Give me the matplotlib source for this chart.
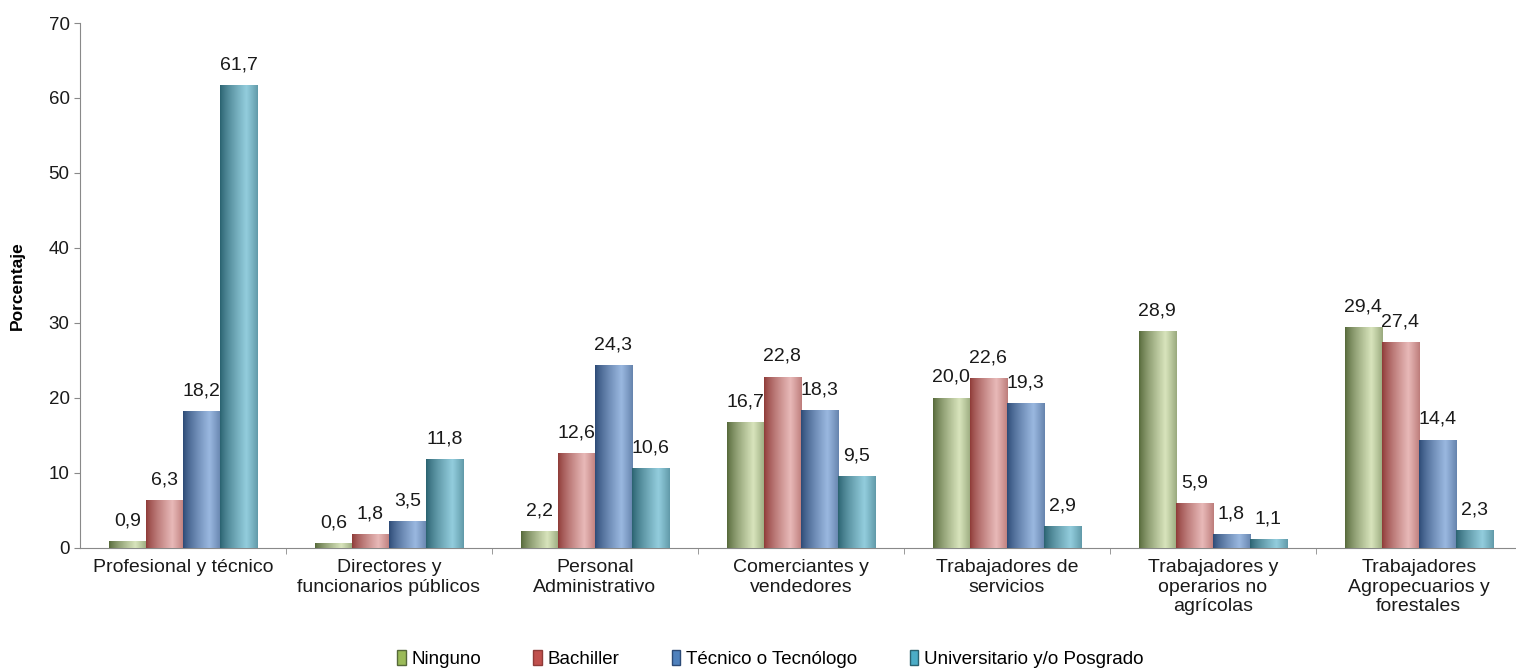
import numpy as np
import matplotlib
matplotlib.use('Agg')
import matplotlib.pyplot as plt
from matplotlib.colors import to_rgb
from matplotlib.patches import Patch

plt.rcParams['font.family'] = ['Liberation Sans', 'DejaVu Sans']

categories = ['Profesional y técnico', 'Directores y\nfuncionarios públicos',
              'Personal\nAdministrativo', 'Comerciantes y\nvendedores',
              'Trabajadores de\nservicios', 'Trabajadores y\noperarios no\nagrícolas',
              'Trabajadores\nAgropecuarios y\nforestales']
series = ['Ninguno', 'Bachiller', 'Técnico o Tecnólogo', 'Universitario y/o Posgrado']
ninguno = [0.9, 0.6, 2.2, 16.7, 20.0, 28.9, 29.4]
bachiller = [6.3, 1.8, 12.6, 22.8, 22.6, 5.9, 27.4]
tecnico = [18.2, 3.5, 24.3, 18.3, 19.3, 1.8, 14.4]
universitario = [61.7, 11.8, 10.6, 9.5, 2.9, 1.1, 2.3]

values = [ninguno, bachiller, tecnico, universitario]
dark = ['#56693a', '#8f3b38', '#2c4a76', '#2a6270']
light = ['#d8e4bc', '#e8b9b8', '#9ab8e0', '#93cddd']
mid = ['#9bbb59', '#c0504d', '#4f81bd', '#4bacc6']

fig = plt.figure(figsize=(15.16, 6.69), dpi=100)
ax = fig.add_axes([0.0528, 0.181, 0.951, 0.7846])

x = np.arange(len(categories))
w = 0.18

# horizontal shading: dark on the left, light toward the right, darker again at the edge
t = np.linspace(0, 1, 64)
prof = np.where(t < 0.7, t / 0.7, 1 - (t - 0.7) / 0.3 * 0.55)
prof = prof ** 0.8

for i, vals in enumerate(values):
    bars = ax.bar(x + (i - 1.5) * w, vals, w, color=mid[i], zorder=2)
    d = np.array(to_rgb(dark[i]))
    l = np.array(to_rgb(light[i]))
    grad = d[None, :] + (l - d)[None, :] * prof[:, None]
    img = grad[None, :, :]
    for b, v in zip(bars, vals):
        x0 = b.get_x()
        ax.imshow(img, extent=[x0, x0 + b.get_width(), 0, b.get_height()],
                  aspect='auto', zorder=3, interpolation='bilinear')
        ax.text(x0 + b.get_width() / 2, v + 1.6, f'{v:.1f}'.replace('.', ','),
                ha='center', va='bottom', fontsize=14, color='#1a1a1a', zorder=4)

ax.set_xlim(-0.5, 6.5)
ax.set_ylim(0, 70)
ax.set_yticks(range(0, 71, 10))
ax.set_xticks(x)
ax.set_xticklabels(categories, fontsize=14, color='#1a1a1a', linespacing=1.2)
ax.set_xticks(np.arange(0.5, 6.5, 1), minor=True)
ax.tick_params(axis='x', which='major', length=0, pad=8)
ax.tick_params(axis='x', which='minor', length=4, color='#898989')
ax.tick_params(axis='y', labelsize=13.5, labelcolor='#1a1a1a', length=4, color='#898989')
ax.set_ylabel('Porcentaje', fontsize=12.5, fontweight='bold')
ax.yaxis.set_label_coords(-0.038, 0.5)

for s in ['top', 'right']:
    ax.spines[s].set_visible(False)
ax.spines['left'].set_color('#898989')
ax.spines['bottom'].set_color('#898989')

handles = [Patch(facecolor=mid[i], edgecolor=dark[i]) for i in range(4)]
fig.legend(handles, series, loc='lower center', bbox_to_anchor=(0.508, -0.024), ncol=4,
           frameon=False, fontsize=13.5, handlelength=0.45, handleheight=0.9,
           handletextpad=0.3, columnspacing=2.8)

fig.savefig('out.png', dpi=100)
